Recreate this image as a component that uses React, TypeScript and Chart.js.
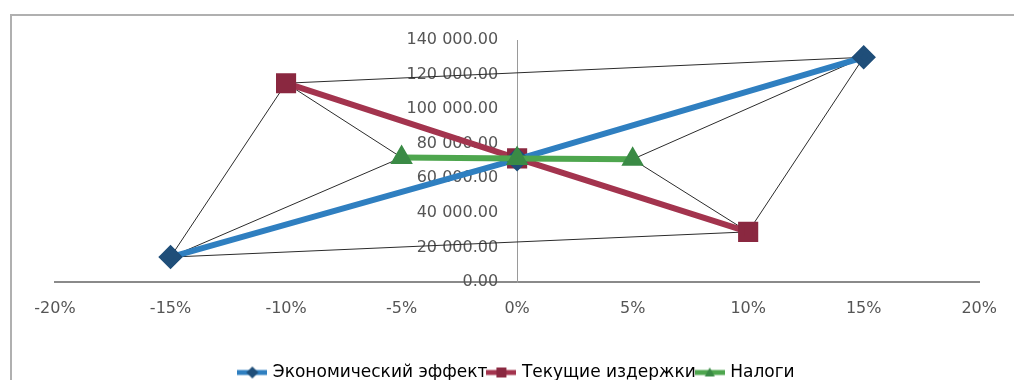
import React, { useEffect, useRef } from "react";
import { Chart, registerables } from "chart.js";

Chart.register(...registerables);

// X values in percent, Y values in currency units
const econX = [-15, 0, 15];
const econY = [14400, 71000, 130000];
const costX = [-10, 0, 10];
const costY = [115000, 71500, 29000];
const taxX = [-5, 0, 5];
const taxY = [72000, 71500, 71000];

const seriesNames = ["Экономический эффект", "Текущие издержки", "Налоги"];
const xTicks = [-20, -15, -10, -5, 0, 5, 10, 15, 20];
const yTicks = [0, 20000, 40000, 60000, 80000, 100000, 120000, 140000];

const BLUE = "#2f7fc0";
const BLUE_M = "#1f4e79";
const RED = "#a3344e";
const RED_M = "#8a2840";
const GREEN = "#4ea64e";
const GREEN_M = "#3a8a45";

const pts = (xs: number[], ys: number[]) => xs.map((x, i) => ({ x, y: ys[i] }));

function fmtY(v: number): string {
  const s = Math.round(v).toString().replace(/\B(?=(\d{3})+(?!\d))/g, " ");
  return s + ".00";
}

function makeSample(line: string, marker: string, style: string): HTMLCanvasElement {
  const c = document.createElement("canvas");
  c.width = 30;
  c.height = 14;
  const g = c.getContext("2d")!;
  g.strokeStyle = line;
  g.lineWidth = 5;
  g.beginPath();
  g.moveTo(0, 7);
  g.lineTo(30, 7);
  g.stroke();
  g.fillStyle = marker;
  g.beginPath();
  if (style === "diamond") {
    g.moveTo(15, 1); g.lineTo(21, 7); g.lineTo(15, 13); g.lineTo(9, 7);
  } else if (style === "square") {
    g.rect(10, 2, 10, 10);
  } else {
    g.moveTo(15, 2); g.lineTo(20, 11); g.lineTo(10, 11);
  }
  g.closePath();
  g.fill();
  return c;
}

export default function App() {
  const ref = useRef<HTMLCanvasElement | null>(null);

  useEffect(() => {
    const canvas = ref.current;
    if (!canvas) return;
    const A = { x: econX[0], y: econY[0] };
    const F = { x: econX[2], y: econY[2] };
    const B = { x: costX[0], y: costY[0] };
    const E = { x: costX[2], y: costY[2] };
    const C = { x: taxX[0], y: taxY[0] };
    const D = { x: taxX[2], y: taxY[2] };

    const samples = [
      makeSample(BLUE, BLUE_M, "diamond"),
      makeSample(RED, RED_M, "square"),
      makeSample(GREEN, GREEN_M, "triangle"),
    ];

    const thin = {
      showLine: true,
      borderColor: "#2b2b2b",
      borderWidth: 1,
      pointRadius: 0,
      fill: false,
      order: 10,
    };

    const chart = new Chart(canvas, {
      type: "scatter",
      data: {
        datasets: [
          {
            label: seriesNames[0],
            data: pts(econX, econY),
            showLine: true,
            borderColor: BLUE,
            borderWidth: 6,
            pointStyle: "rectRot",
            pointRadius: 8,
            pointBackgroundColor: BLUE_M,
            pointBorderColor: BLUE_M,
            order: 2,
          },
          {
            label: seriesNames[1],
            data: pts(costX, costY),
            showLine: true,
            borderColor: RED,
            borderWidth: 6,
            pointStyle: "rect",
            pointRadius: 10,
            pointBackgroundColor: RED_M,
            pointBorderColor: RED_M,
            order: 3,
          },
          {
            label: seriesNames[2],
            data: pts(taxX, taxY),
            showLine: true,
            borderColor: GREEN,
            borderWidth: 6,
            pointStyle: "triangle",
            pointRadius: 7,
            pointBackgroundColor: GREEN_M,
            pointBorderColor: GREEN_M,
            order: 1,
          },
          { ...thin, label: "_c1", data: [A, B, C, A, E, D, F, E] },
          { ...thin, label: "_c2", data: [B, F] },
        ],
      },
      options: {
        animation: false,
        responsive: false,
        events: [],
        layout: { padding: { left: 55, right: 34, top: 40, bottom: -11 } },
        scales: {
          x: {
            type: "linear",
            position: "bottom",
            min: xTicks[0],
            max: xTicks[xTicks.length - 1],
            afterBuildTicks: (s: any) => {
              s.ticks = xTicks.map((v) => ({ value: v }));
            },
            afterFit: (s: any) => {
              s.height = 80;
            },
            ticks: {
              callback: (v: any) => v + "%",
              color: "#555555",
              font: { family: "DejaVu Sans", size: 16 },
              padding: 17,
              maxRotation: 0,
            },
            grid: { display: false, drawTicks: false },
            border: { display: true, color: "#8a8a8a", width: 2 },
          },
          y: {
            type: "linear",
            position: "center",
            min: yTicks[0],
            max: yTicks[yTicks.length - 1],
            afterBuildTicks: (s: any) => {
              s.ticks = yTicks.map((v) => ({ value: v }));
            },
            ticks: {
              callback: (v: any) => fmtY(Number(v)),
              color: "#555555",
              font: { family: "DejaVu Sans", size: 16 },
              padding: 19,
            },
            grid: { display: false, drawTicks: false },
            border: { display: true, color: "#9a9a9a", width: 1 },
          },
        },
        plugins: {
          tooltip: { enabled: false },
          legend: {
            display: true,
            position: "bottom",
            labels: {
              usePointStyle: true,
              pointStyleWidth: 24,
              padding: 2,
              color: "#444444",
              font: { family: "DejaVu Sans", size: 17 },
              generateLabels: () =>
                seriesNames.map((name, i) => ({
                  text: name,
                  pointStyle: samples[i] as any,
                  datasetIndex: i,
                  fillStyle: "transparent",
                  strokeStyle: "transparent",
                  lineWidth: 0,
                  hidden: false,
                })),
            },
          },
        },
      },
    } as any);
    return () => chart.destroy();
  }, []);

  return (
    <div style={{ position: "absolute", left: 0, top: 0, width: 1014, height: 380, background: "#fff", overflow: "hidden" }}>
      <div
        style={{
          position: "absolute",
          left: 10,
          top: 14,
          width: 1020,
          height: 400,
          borderTop: "2px solid #b0b0b0",
          borderLeft: "2px solid #b0b0b0",
        }}
      />
      <canvas ref={ref} width={1014} height={380} style={{ position: "absolute", left: 0, top: 0, width: 1014, height: 380 }} />
    </div>
  );
}
